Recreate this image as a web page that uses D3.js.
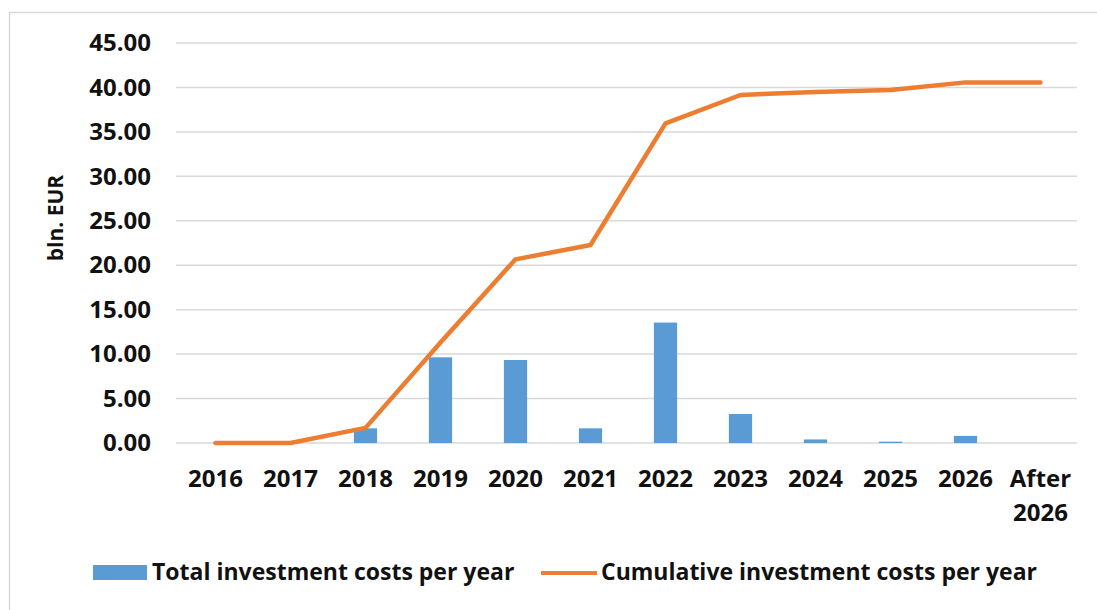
<!DOCTYPE html>
<html>
<head>
<meta charset="utf-8">
<script src="https://cdn.jsdelivr.net/npm/d3@7"></script>
<style>
  html, body { margin: 0; padding: 0; background: #fff; }
  svg { display: block; }
  text { font-family: "Open Sans", Lato, sans-serif; font-weight: bold; fill: #111; }
</style>
</head>
<body>
<svg id="chart" width="1097" height="610"></svg>
<script>
// Investment schedule, billion EUR
const categories = ["2016", "2017", "2018", "2019", "2020", "2021", "2022", "2023", "2024", "2025", "2026", "After 2026"];
const yearlyCosts = [0, 0, 1.65, 9.64, 9.34, 1.65, 13.55, 3.26, 0.4, 0.15, 0.8, 0];
const cumulativeCosts = [0, 0, 1.7, 11.3, 20.66, 22.27, 35.96, 39.15, 39.5, 39.7, 40.57, 40.57];
const yTicks = [0, 5, 10, 15, 20, 25, 30, 35, 40, 45];
const seriesNames = ["Total investment costs per year", "Cumulative investment costs per year"];

const svg = d3.select("#chart");
const W = 1097, H = 610;

// outer frame
svg.append("path")
  .attr("d", `M9.5,${H} V12.5 H${W}`)
  .attr("fill", "none")
  .attr("stroke", "#d9d9d9")
  .attr("stroke-width", 1.5);

const plot = { left: 178, right: 1078, top: 43, bottom: 443 };

const x = d3.scaleBand()
  .domain(categories)
  .range([plot.left, plot.right])
  .padding(0);

const y = d3.scaleLinear()
  .domain([0, 45])
  .range([plot.bottom, plot.top]);

// horizontal gridlines
svg.append("g")
  .selectAll("line")
  .data(yTicks)
  .join("line")
  .attr("x1", plot.left - 2)
  .attr("x2", plot.right - 1)
  .attr("y1", d => y(d))
  .attr("y2", d => y(d))
  .attr("stroke", "#d9d9d9")
  .attr("stroke-width", 1.5);

// y axis labels
const yAxis = d3.axisLeft(y)
  .tickValues(yTicks)
  .tickFormat(d3.format(".2f"))
  .tickSize(0)
  .tickPadding(0);
const yg = svg.append("g")
  .attr("transform", `translate(151,0)`)
  .call(yAxis);
yg.select(".domain").remove();
yg.selectAll("text")
  .attr("font-size", 24)
  .attr("fill", "#111")
  .attr("font-family", "'Open Sans', sans-serif")
  .attr("font-weight", "bold");

// y axis title
svg.append("text")
  .attr("transform", `translate(63,218) rotate(-90)`)
  .attr("text-anchor", "middle")
  .attr("font-size", 21)
  .text("bln. EUR");

// bars
const barW = x.bandwidth() * 0.31;
svg.append("g")
  .selectAll("rect")
  .data(categories.map((c, i) => ({ c, v: yearlyCosts[i] })))
  .join("rect")
  .attr("x", d => x(d.c) + (x.bandwidth() - barW) / 2)
  .attr("width", barW)
  .attr("y", d => y(d.v))
  .attr("height", d => y(0) - y(d.v))
  .attr("fill", "#5B9BD5");

// cumulative line
const line = d3.line()
  .x((d, i) => x(categories[i]) + x.bandwidth() / 2)
  .y(d => y(d));
svg.append("path")
  .datum(cumulativeCosts)
  .attr("d", line)
  .attr("fill", "none")
  .attr("stroke", "#ED7D31")
  .attr("stroke-width", 4.5)
  .attr("stroke-linejoin", "round")
  .attr("stroke-linecap", "round");

// x axis labels (multi-line for "After 2026")
const xg = svg.append("g");
categories.forEach(c => {
  const words = c.split(" ");
  const t = xg.append("text")
    .attr("x", x(c) + x.bandwidth() / 2)
    .attr("y", 487)
    .attr("text-anchor", "middle")
    .attr("font-size", 24);
  words.forEach((w, i) => {
    t.append("tspan")
      .attr("x", x(c) + x.bandwidth() / 2)
      .attr("dy", i === 0 ? 0 : 34)
      .text(w);
  });
});

// legend
const lg = svg.append("g");
lg.append("rect")
  .attr("x", 93).attr("y", 565)
  .attr("width", 54).attr("height", 15)
  .attr("fill", "#5B9BD5");
lg.append("text")
  .attr("x", 152).attr("y", 580)
  .attr("font-size", 23)
  .text(seriesNames[0]);
lg.append("line")
  .attr("x1", 541).attr("x2", 597)
  .attr("y1", 573).attr("y2", 573)
  .attr("stroke", "#ED7D31")
  .attr("stroke-width", 4);
lg.append("text")
  .attr("x", 601).attr("y", 580)
  .attr("font-size", 23)
  .text(seriesNames[1]);
</script>
</body>
</html>
